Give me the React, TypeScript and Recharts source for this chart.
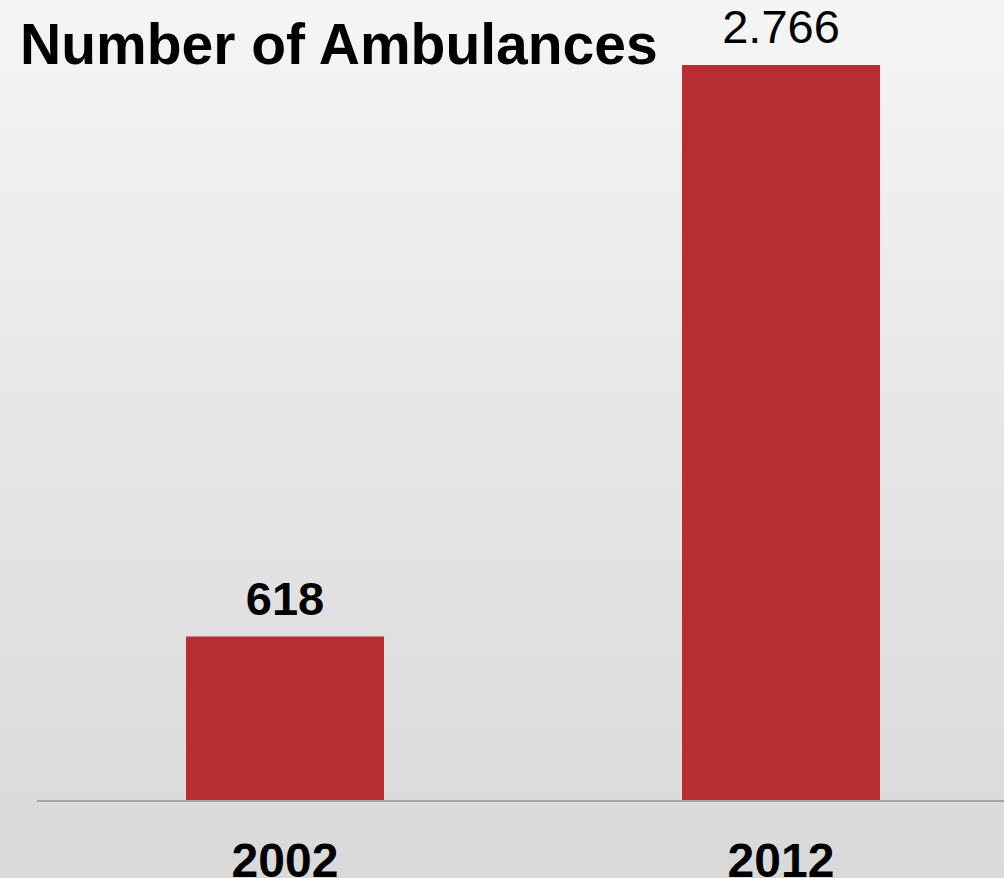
import React from 'react';
import { BarChart, Bar, XAxis, YAxis } from 'recharts';

const years = ['2002', '2012'];
const ambulances = [618, 2766];

const chartData = years.map((year, i) => ({ year, value: ambulances[i] }));

const fmt = (v: number) => String(v).replace(/\B(?=(\d{3})+(?!\d))/g, '.');

const FONT = '"Liberation Sans", Arial, sans-serif';

const ValueLabel = (props: any) => {
    const { x, y, width, value, index } = props;
    return (
        <text
            x={x + width / 2}
            y={y - 22}
            textAnchor="middle"
            fontFamily={FONT}
            fontSize={47}
            fontWeight={index === 0 ? 'bold' : 'normal'}
            fill="#000"
        >
            {fmt(value)}
        </text>
    );
};

const YearTick = (props: any) => {
    const { x, payload } = props;
    return (
        <text x={x} y={877} textAnchor="middle" fontFamily={FONT} fontSize={48} fontWeight="bold" fill="#000">
            {payload.value}
        </text>
    );
};

export default function App() {
    return (
        <div
            style={{
                position: 'absolute',
                left: 0,
                top: 0,
                width: 1004,
                height: 878,
                overflow: 'hidden',
                background: 'linear-gradient(to bottom, #f5f5f5 0%, #e6e6e6 50%, #d9d9d9 100%)',
            }}
        >
            <div
                style={{
                    position: 'absolute',
                    left: 20,
                    top: 16,
                    fontFamily: FONT,
                    fontSize: 57,
                    lineHeight: '57px',
                    fontWeight: 'bold',
                    color: '#000',
                    whiteSpace: 'nowrap',
                }}
            >
                Number of Ambulances
            </div>
            <BarChart
                width={1040}
                height={878}
                data={chartData}
                margin={{ top: 65, right: 11, left: 37, bottom: 0 }}
                style={{ position: 'absolute', left: 0, top: 0 }}
            >
                <YAxis hide domain={[0, 'dataMax']} />
                <XAxis
                    dataKey="year"
                    height={77}
                    axisLine={{ stroke: '#a6a6a6', strokeWidth: 2 }}
                    tickLine={false}
                    tick={<YearTick />}
                    interval={0}
                />
                <Bar dataKey="value" fill="#b72d32" barSize={198} isAnimationActive={false} label={<ValueLabel />} />
            </BarChart>
        </div>
    );
}
